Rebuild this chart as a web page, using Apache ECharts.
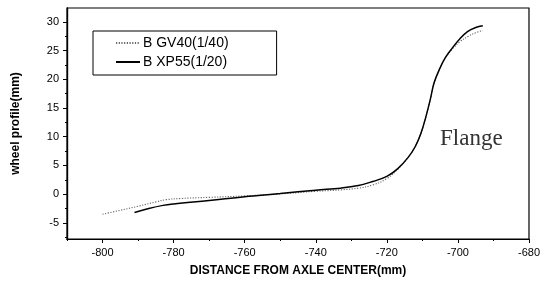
<!DOCTYPE html>
<html>
<head>
<meta charset="utf-8">
<script src="https://cdn.jsdelivr.net/npm/echarts@6/dist/echarts.min.js"></script>
<style>html,body{margin:0;padding:0;background:#fff}#c{width:543px;height:286px}</style>
</head>
<body>
<div id="c"></div>
<script>
const seriesNames = ['B GV40(1/40)', 'B XP55(1/20)'];
const gv40 = [
  [-800, -3.5], [-795, -2.8], [-790, -2.1], [-785, -1.35], [-782, -0.95], [-778, -0.75],
  [-770, -0.55], [-760, -0.3], [-750, 0.05], [-740, 0.5], [-733, 0.75], [-728, 1.05],
  [-724, 1.6], [-720, 2.7], [-717, 4.3], [-714, 6.4], [-712, 8.3], [-710.4, 10.6],
  [-709, 13.5], [-707.8, 16.4], [-706.7, 19.4], [-705, 22], [-703.5, 23.8], [-701.5, 25.3],
  [-699.5, 26.5], [-697, 27.5], [-695, 28.1], [-693, 28.5]
];
const xp55 = [
  [-791, -3.2], [-787, -2.5], [-783, -1.95], [-780, -1.7], [-770, -1.1], [-760, -0.45],
  [-750, 0.1], [-740, 0.7], [-733, 1.05], [-728, 1.5], [-724, 2.2], [-720, 3.1],
  [-717, 4.4], [-714, 6.4], [-712, 8.3], [-710.4, 10.6], [-709, 13.5], [-707.8, 16.4],
  [-706.7, 19.4], [-705, 22], [-703.5, 23.8], [-701.5, 25.5], [-699.5, 27.0],
  [-697.3, 28.3], [-695, 29.0], [-693, 29.3]
];
const xTicks = [-800, -780, -760, -740, -720, -700, -680];
const xMinor = [-810, -790, -770, -750, -730, -710, -690];
const yTicks = [-5, 0, 5, 10, 15, 20, 25, 30];
const yMinor = [-7.5, -2.5, 2.5, 7.5, 12.5, 17.5, 22.5, 27.5];
const flangeLabel = 'Flange';
const xName = 'DISTANCE FROM AXLE CENTER(mm)';
const yName = 'wheel profile(mm)';

const X_MIN = -810, X_MAX = -680, Y_MIN = -7.8, Y_MAX = 32.4;
const font = 'Liberation Sans, Arial, sans-serif';
const chart = echarts.init(document.getElementById('c'), null, {renderer: 'canvas'});
const baseAxis = {
  axisLine: {show: true, onZero: false, lineStyle: {color: '#000', width: 1.2}},
  splitLine: {show: false}
};
chart.setOption({
  animation: false,
  backgroundColor: '#fff',
  grid: {left: 67, right: 14, top: 8, bottom: 47, show: true, borderColor: '#000', borderWidth: 1.2, containLabel: false},
  legend: {
    orient: 'vertical', left: 93, top: 31,
    data: seriesNames,
    itemWidth: 24, itemHeight: 14, itemGap: 5,
    padding: [5, 48, 6, 22],
    borderColor: '#000', borderWidth: 1,
    itemStyle: {opacity: 0},
    textStyle: {fontFamily: font, fontSize: 14, color: '#000', padding: [0, 0, 0, -2]}
  },
  xAxis: [
    Object.assign({}, baseAxis, {
      type: 'value', min: X_MIN, max: X_MAX, position: 'bottom',
      name: xName, nameLocation: 'middle', nameGap: 26,
      nameTextStyle: {fontFamily: font, fontSize: 12, fontWeight: 'bold', color: '#000'},
      axisTick: {show: true, inside: false, length: 4, customValues: xTicks, lineStyle: {color: '#000'}},
      axisLabel: {show: true, customValues: xTicks, fontFamily: font, fontSize: 11, color: '#000', margin: 8}
    }),
    Object.assign({}, baseAxis, {
      type: 'value', min: X_MIN, max: X_MAX, position: 'bottom',
      axisTick: {show: true, inside: false, length: 2, customValues: xMinor, lineStyle: {color: '#000'}},
      axisLabel: {show: false}
    })
  ],
  yAxis: [
    Object.assign({}, baseAxis, {
      type: 'value', min: Y_MIN, max: Y_MAX, position: 'left',
      name: yName, nameLocation: 'middle', nameGap: 45, nameRotate: 90,
      nameTextStyle: {fontFamily: font, fontSize: 12, fontWeight: 'bold', color: '#000'},
      axisTick: {show: true, inside: false, length: 4, customValues: yTicks, lineStyle: {color: '#000'}},
      axisLabel: {show: true, customValues: yTicks, fontFamily: font, fontSize: 11, color: '#000', margin: 8}
    }),
    Object.assign({}, baseAxis, {
      type: 'value', min: Y_MIN, max: Y_MAX, position: 'left',
      axisTick: {show: true, inside: false, length: 2, customValues: yMinor, lineStyle: {color: '#000'}},
      axisLabel: {show: false}
    })
  ],
  graphic: [{
    type: 'text', left: 440, top: 127,
    style: {text: flangeLabel, font: '23px "Liberation Serif", "DejaVu Serif", serif', fill: '#333'}
  }],
  series: [
    {
      name: seriesNames[0], type: 'line', data: gv40, smooth: 0.4, symbol: 'none',
      xAxisIndex: 0, yAxisIndex: 0,
      lineStyle: {color: '#666', width: 1.1, type: [1.2, 1.5]},
      itemStyle: {color: '#666'}
    },
    {
      name: seriesNames[1], type: 'line', data: xp55, smooth: 0.4, symbol: 'none',
      xAxisIndex: 0, yAxisIndex: 0,
      lineStyle: {color: '#000', width: 1.5, type: 'solid'},
      itemStyle: {color: '#000'}
    }
  ]
});
</script>
</body>
</html>
